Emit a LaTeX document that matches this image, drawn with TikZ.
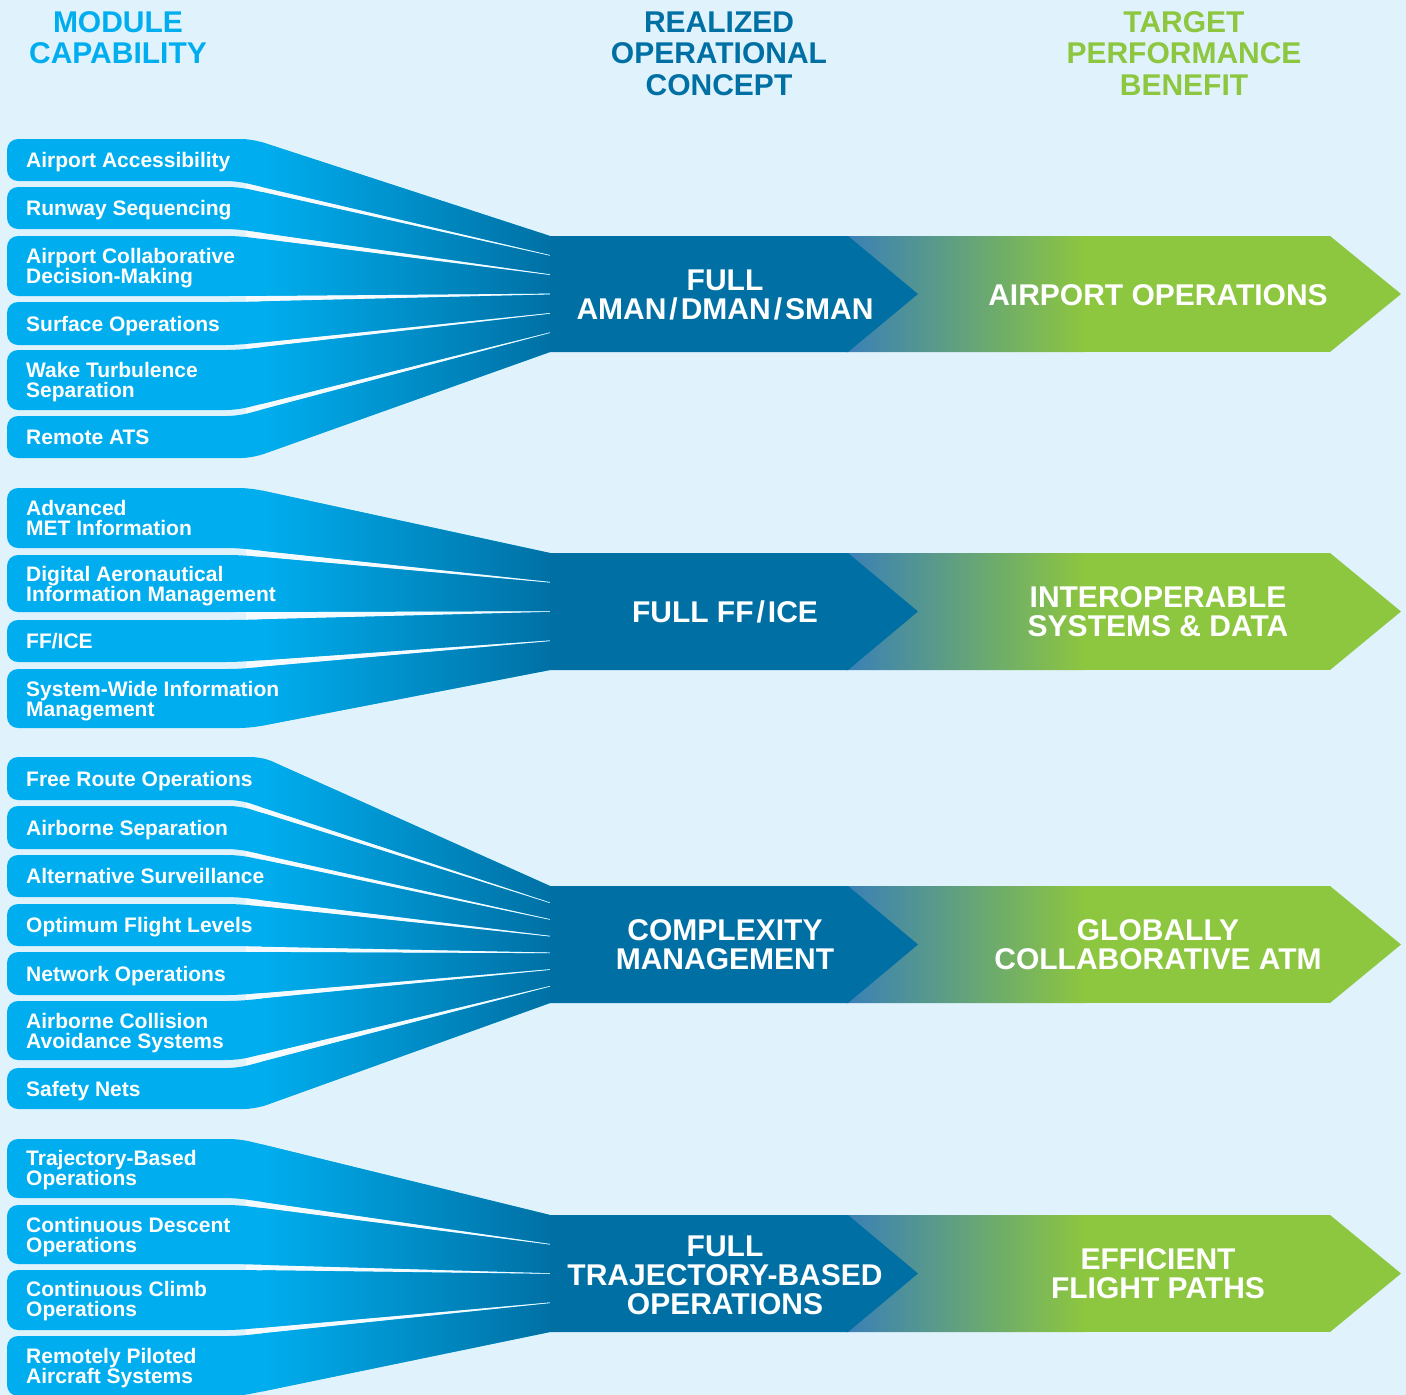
\documentclass[tikz,border=0pt]{standalone}
\usepackage{fontspec}
\setmainfont{Liberation Sans}
\usetikzlibrary{calc}
\definecolor{bgc}{RGB}{224,242,252}
\definecolor{cyanM}{RGB}{0,174,239}
\definecolor{darkB}{RGB}{0,112,164}
\definecolor{greenB}{RGB}{141,198,63}
\definecolor{tealS}{RGB}{58,128,182}
\definecolor{gapW}{RGB}{244,250,254}
\newcommand\slsh{\kern3pt/\kern3pt}
\tikzset{
  x=1pt, y=-1pt,
  hdr/.style={align=center, inner sep=0pt, font=\bfseries\fontsize{30}{31.5}\selectfont},
  lbl/.style={anchor=base west, align=left, inner sep=0pt, text=white, font=\bfseries\fontsize{21}{20}\selectfont},
  big/.style={align=center, inner sep=0pt, text=white, font=\bfseries\fontsize{30}{29}\selectfont},
  gapfill/.style={fill=gapW},
}
\begin{document}
\begin{tikzpicture}
\useasboundingbox[fill=bgc] (0,0) rectangle (1406,1395);

% headers (base anchor = baseline of last line)
\node[hdr, text=cyanM, anchor=base] (h1) at (118,63.5) {MODULE\\CAPABILITY};
\node[hdr, text=darkB, anchor=base] (h2) at (719,95) {REALIZED\\OPERATIONAL\\CONCEPT};
\node[hdr, text=greenB, anchor=base] (h3) at (1184,95) {TARGET\\PERFORMANCE\\BENEFIT};

% ---------- whitish gaps inside the fans ----------
\fill[gapfill] (246,179) -- (550,239) -- (550,349) -- (246,418) -- cycle;
\fill[gapfill] (246,546) -- (550,556) -- (550,667) -- (246,671) -- cycle;
\fill[gapfill] (246,798) -- (550,889) -- (550,1000) -- (246,1070) -- cycle;
\fill[gapfill] (246,1196) -- (550,1218) -- (550,1329) -- (246,1338) -- cycle;

% ---------- fans ----------
\begin{scope}
\clip foreach \a/\b/\T/\B/\tx/\bx in {
  139/181/236/254.8/252/237,
  187/229/255.9/274.1/239/236,
  236/296/275.2/293.4/238/236,
  302/345/294.6/312.8/238/236,
  350/410/313.9/332.1/238/237,
  416/458/333.2/352/238/252}
  { ($(\bx,\b)!{(600-\bx)/(550-\bx)}!(550,\B)$) [rounded corners=11] -- (\bx,\b) -- (7,\b) -- (7,\a) -- (\tx,\a) -- ($(\tx,\a)!{(600-\tx)/(550-\tx)}!(550,\T)$) -- cycle };
\fill[cyanM] (0,130) rectangle (560,470);
\shade[left color=cyanM, right color=darkB] (262,130) rectangle (551,470);
\end{scope}

\begin{scope}
\clip foreach \a/\b/\T/\B/\tx/\bx in {
  488/548/553/581.7/250/237,
  555/612/582.8/611/239/236,
  620/662/612/640.2/238/236,
  669/728/641.3/670/238/250}
  { ($(\bx,\b)!{(600-\bx)/(550-\bx)}!(550,\B)$) [rounded corners=11] -- (\bx,\b) -- (7,\b) -- (7,\a) -- (\tx,\a) -- ($(\tx,\a)!{(600-\tx)/(550-\tx)}!(550,\T)$) -- cycle };
\fill[cyanM] (0,480) rectangle (560,740);
\shade[left color=cyanM, right color=darkB] (262,480) rectangle (551,740);
\end{scope}

\begin{scope}
\clip foreach \a/\b/\T/\B/\tx/\bx in {
  757/800/886/902.2/262/240,
  806/849/903.3/918.9/240/238,
  855/897/920/935.6/239/237,
  904/946/936.7/952.3/238/237,
  952/995/953.4/969/238/237,
  1001/1060/970.1/985.7/238/238,
  1068/1109/986.8/1003/238/255}
  { ($(\bx,\b)!{(600-\bx)/(550-\bx)}!(550,\B)$) [rounded corners=11] -- (\bx,\b) -- (7,\b) -- (7,\a) -- (\tx,\a) -- ($(\tx,\a)!{(600-\tx)/(550-\tx)}!(550,\T)$) -- cycle };
\fill[cyanM] (0,750) rectangle (560,1120);
\shade[left color=cyanM, right color=darkB] (262,750) rectangle (551,1120);
\end{scope}

\begin{scope}
\clip foreach \a/\b/\T/\B/\tx/\bx in {
  1139/1198/1215/1243.7/240/236,
  1205/1264/1244.8/1273/238/236,
  1270/1330/1274/1302.2/238/236,
  1336/1396/1303.3/1332/238/240}
  { ($(\bx,\b)!{(600-\bx)/(550-\bx)}!(550,\B)$) [rounded corners=11] -- (\bx,\b) -- (7,\b) -- (7,\a) -- (\tx,\a) -- ($(\tx,\a)!{(600-\tx)/(550-\tx)}!(550,\T)$) -- cycle };
\fill[cyanM] (0,1130) rectangle (560,1400);
\shade[left color=cyanM, right color=darkB] (262,1130) rectangle (551,1400);
\end{scope}

% ---------- arrows ----------
\foreach \t/\c/\bo in {236/294/352, 553/611.5/670, 886/944.5/1003, 1215/1273.5/1332}{
  \begin{scope}
    \clip (840,\t) -- (1330,\t) -- (1401,\c) -- (1330,\bo) -- (840,\bo) -- cycle;
    \fill[greenB] (840,\t) rectangle (1410,\bo);
    \shade[left color=tealS, right color=greenB] (846,\t) rectangle (1085,\bo);
  \end{scope}
  \fill[darkB] (550,\t) -- (848,\t) -- (918,\c) -- (848,\bo) -- (550,\bo) -- cycle;
}

% ---------- left labels (base anchor = last line baseline) ----------
\node[lbl] (l11) at (26,167.5) {Airport Accessibility};
\node[lbl] (l12) at (26,215.5) {Runway Sequencing};
\node[lbl] (l13) at (26,283.5) {Airport Collaborative\\Decision-Making};
\node[lbl] (l14) at (26,331) {Surface Operations};
\node[lbl] (l15) at (26,397.5) {Wake Turbulence\\Separation};
\node[lbl] (l16) at (26,444.5) {Remote ATS};

\node[lbl] (l21) at (26,535.5) {Advanced\\MET Information};
\node[lbl] (l22) at (26,601) {Digital Aeronautical\\Information Management};
\node[lbl] (l23) at (26,648.5) {FF/ICE};
\node[lbl] (l24) at (26,716) {System-Wide Information\\Management};

\node[lbl] (l31) at (26,786) {Free Route Operations};
\node[lbl] (l32) at (26,835) {Airborne Separation};
\node[lbl] (l33) at (26,883.5) {Alternative Surveillance};
\node[lbl] (l34) at (26,932.5) {Optimum Flight Levels};
\node[lbl] (l35) at (26,981) {Network Operations};
\node[lbl] (l36) at (26,1048) {Airborne Collision\\Avoidance Systems};
\node[lbl] (l37) at (26,1096) {Safety Nets};

\node[lbl] (l41) at (26,1185) {Trajectory-Based\\Operations};
\node[lbl] (l42) at (26,1252) {Continuous Descent\\Operations};
\node[lbl] (l43) at (26,1316) {Continuous Climb\\Operations};
\node[lbl] (l44) at (26,1383) {Remotely Piloted\\Aircraft Systems};

% ---------- concept / benefit texts ----------
\node[big] (c1) at (725,295) {FULL\\AMAN\slsh DMAN\slsh SMAN};
\node[big] (b1) at (1158,295) {AIRPORT OPERATIONS};
\node[big] (c2) at (725,612) {FULL FF\slsh ICE};
\node[big] (b2) at (1158,612) {INTEROPERABLE\\SYSTEMS \& DATA};
\node[big] (c3) at (725,945) {COMPLEXITY\\MANAGEMENT};
\node[big] (b3) at (1158,945) {GLOBALLY\\COLLABORATIVE ATM};
\node[big] (c4) at (725,1275) {FULL\\TRAJECTORY-BASED\\OPERATIONS};
\node[big] (b4) at (1158,1274) {EFFICIENT\\FLIGHT PATHS};
\end{tikzpicture}
\end{document}
